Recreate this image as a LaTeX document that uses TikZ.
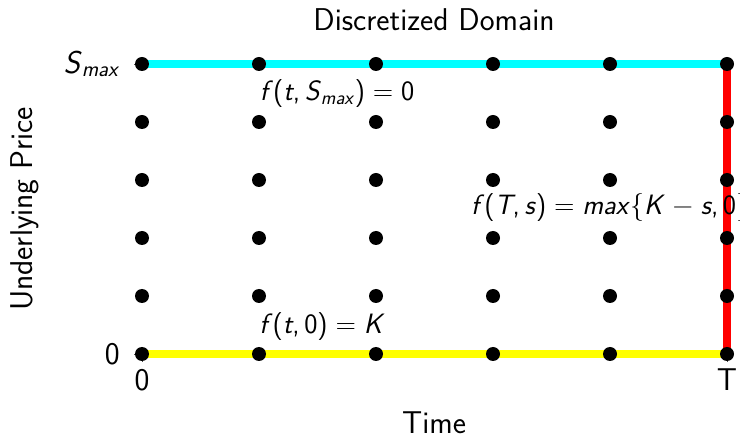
\documentclass[tikz,border=0pt]{standalone}
\usepackage{fontspec}
\usepackage{tikz}
\usetikzlibrary{positioning}
\definecolor{edgecyan}{HTML}{00FFFF}
\definecolor{edgeyellow}{HTML}{FFFF00}
\definecolor{edgered}{HTML}{FF0000}
\tikzset{
  pt/.style={circle,fill=black,minimum size=14pt,inner sep=0pt},
  bd/.style={line width=8.5pt},
  lbl/.style={font=\sffamily\fontsize{31.5}{36}\selectfont,inner sep=2pt},
  eq/.style={font=\sffamily\fontsize{28}{32}\selectfont,inner sep=0pt},
  tk/.style={gray!60!black,line width=0.8pt}
}
\newcommand{\vr}[1]{\textit{#1}}

\begin{document}
\begin{tikzpicture}[x=1pt,y=-1pt]
\useasboundingbox (0,0) rectangle (740,438);
% grid points
\foreach \i in {0,...,5}{
  \foreach \j in {0,...,5}{
    \coordinate (g\i\j) at ({142+117*\i},{354-58*\j});
  }
}
% ticks
\coordinate (tyS) at (134,64);
\coordinate (ty0) at (134,354);
\coordinate (tx0) at (142,362);
\coordinate (txT) at (727,362);
\draw[tk] (g05) -- (tyS);
\draw[tk] (g00) -- (ty0);
\draw[tk] (g00) -- (tx0);
\draw[tk] (g50) -- (txT);
\node[lbl,left=12pt of tyS,anchor=east] (ls) {\vr{S}\textsubscript{\vr{max}}};
\node[lbl,left=12pt of ty0,anchor=east] (l0) {0};
\node[lbl,below=5pt of tx0] (b0) {0};
\node[lbl,below=5pt of txT] (bT) {T};
% boundaries
\draw[bd,edgered] (g50) -- (g55);
\draw[bd,edgecyan] (g05) -- (g55);
\draw[bd,edgeyellow] (g00) -- (g50);
% conditions
\node[eq] (top) at (337,94) {\vr{f}(\vr{t},\,\vr{S}\textsubscript{\vr{max}})\;=\;0};
\node[eq,anchor=west] (rgt) at (471,208) {\vr{f}(\vr{T},\,\vr{s})\;=\;\vr{max}\{\vr{K}\;−\;\vr{s},\,0\}};
\node[eq] (bot) at (322,327) {\vr{f}(\vr{t},\,0)\;=\;\vr{K}};
% dots
\foreach \i in {0,...,5}{
  \foreach \j in {0,...,5}{
    \node[pt] (d\i\j) at (g\i\j) {};
  }
}
% axis titles
\node[lbl] (title) at (434,20) {Discretized Domain};
\node[lbl] (xlab) at (434,423) {Time};
\node[lbl,rotate=90] (ylab) at (25,209) {Underlying Price};
\end{tikzpicture}
\end{document}
